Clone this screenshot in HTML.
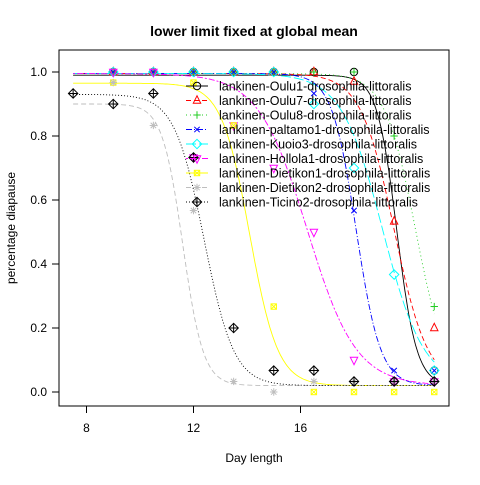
<!DOCTYPE html>
<html><head><meta charset="utf-8"><style>
body{margin:0;background:#fff}
svg{font-family:"Liberation Sans",sans-serif}
</style></head><body>
<svg id="chart" width="480" height="480" viewBox="0 0 480 480">
<text x="254" y="36" text-anchor="middle" font-size="14" font-weight="bold">lower limit fixed at global mean</text>
<text x="254" y="462" text-anchor="middle" font-size="12">Day length</text>
<text transform="translate(15,228) rotate(-90)" text-anchor="middle" font-size="12">percentage diapause</text>
<rect x="59" y="50" width="390" height="356" fill="none" stroke="#000"/>
<g id="axes"></g><g id="curves"></g><g id="points"></g><g id="legend"></g>
</svg>
<script>
const xTicks=[8,12,16];
const yTicks=[0,0.2,0.4,0.6,0.8,1.0];
const yTickLabels=["0.0","0.2","0.4","0.6","0.8","1.0"];
const days=[7.5,9,10.5,12,13.5,15,16.5,18,19.5,21];
const seriesNames=["lankinen-Oulu1-drosophila-littoralis","lankinen-Oulu7-drosophila-littoralis","lankinen-Oulu8-drosophila-littoralis","lankinen-paltamo1-drosophila-littoralis","lankinen-Kuoio3-drosophila-littoralis","lankinen-Hollola1-drosophila-littoralis","lankinen-Dietikon1-drosophila-littoralis","lankinen-Dietikon2-drosophila-littoralis","lankinen-Ticino2-drosophila-littoralis"];
const oulu1=[null,1,1,1,1,1,1,1,0.033,0.067];
const oulu7=[null,1,1,1,1,1,1,0.97,0.533,0.2];
const oulu8=[null,1,1,1,1,1,1,1,0.8,0.267];
const paltamo1=[null,1,1,1,1,1,0.933,0.567,0.067,0.067];
const kuoio3=[null,1,1,1,1,1,0.9,0.7,0.367,0.067];
const hollola1=[null,1,1,0.733,0.833,0.7,0.5,0.1,0.033,0.033];
const dietikon1=[null,0.967,null,0.967,0.833,0.267,0,0,0,0];
const dietikon2=[null,0.967,0.833,0.567,0.033,0,0.033,0.033,0.033,0.033];
const ticino2=[0.933,0.9,0.933,0.733,0.2,0.067,0.067,0.033,0.033,0.033];
const lowerLimit=0.02;
const upperLimits=[0.99,0.995,0.995,0.995,0.995,0.995,0.965,0.9,0.93];
const midpoints=[19.6,19.5,20.3,18.08,19.07,16.25,14.1,11.6,12.4];
const slopes=[2.7,1.6,1.73,2.2,1.3,1.1,1.9,2.6,1.8];
const allData=[oulu1,oulu7,oulu8,paltamo1,kuoio3,hollola1,dietikon1,dietikon2,ticino2];
const colors=["#000","#f00","#2c2","#00f","#0ff","#f0f","#ff0","#bebebe","#000"];
const dashes=["","5,3","1,3","6,2,1,2","10,3","2,2,6,2","","5,3","1,2"];
const sx=v=>86.5+(v-8)*26.75, sy=v=>392-v*320;
const NS="http://www.w3.org/2000/svg";
function mk(t,a,p){const e=document.createElementNS(NS,t);for(const k in a)e.setAttribute(k,a[k]);p.appendChild(e);return e;}
const ax=document.getElementById('axes');
xTicks.forEach(t=>{const l=mk('line',{x1:sx(t),x2:sx(t),y1:406,y2:413,stroke:'#000'},ax);

const tx=mk('text',{x:sx(t),y:432,'text-anchor':'middle','font-size':12},ax);tx.textContent=t;
});
yTicks.forEach((t,i)=>{const l=mk('line',{x1:52,x2:59,y1:sy(t),y2:sy(t),stroke:'#000'},ax);

const tx=mk('text',{x:47,y:sy(t)+4,'text-anchor':'end','font-size':12},ax);tx.textContent=yTickLabels[i];
});
function sym(i,x,y,g){const c=colors[i],s=3.7;let d='';
switch(i){case 0:mk('circle',{cx:x,cy:y,r:s,fill:'none',stroke:c},g);break;
case 1:mk('polygon',{points:`${x},${y-s-1} ${x-s},${y+s-1} ${x+s},${y+s-1}`,fill:'none',stroke:c},g);break;
case 2:d=`M${x-s},${y}H${x+s}M${x},${y-s}V${y+s}`;break;
case 3:d=`M${x-s+1},${y-s+1}L${x+s-1},${y+s-1}M${x-s+1},${y+s-1}L${x+s-1},${y-s+1}`;break;
case 4:mk('polygon',{points:`${x},${y-s-1} ${x+s+1},${y} ${x},${y+s+1} ${x-s-1},${y}`,fill:'none',stroke:c},g);break;
case 5:mk('polygon',{points:`${x},${y+s+1} ${x-s},${y-s+1} ${x+s},${y-s+1}`,fill:'none',stroke:c},g);break;
case 6:mk('rect',{x:x-s+1,y:y-s+1,width:2*s-2,height:2*s-2,fill:'none',stroke:c},g);d=`M${x-s+1},${y-s+1}L${x+s-1},${y+s-1}M${x-s+1},${y+s-1}L${x+s-1},${y-s+1}`;break;
case 7:d=`M${x-s},${y}H${x+s}M${x},${y-s}V${y+s}M${x-s+1},${y-s+1}L${x+s-1},${y+s-1}M${x-s+1},${y+s-1}L${x+s-1},${y-s+1}`;break;
case 8:mk('polygon',{points:`${x},${y-s-1} ${x+s+1},${y} ${x},${y+s+1} ${x-s-1},${y}`,fill:'none',stroke:c},g);d=`M${x-s-1},${y}H${x+s+1}M${x},${y-s-1}V${y+s+1}`;break;}
if(d)mk('path',{d:d,stroke:c,fill:'none'},g);}
const cg=document.getElementById('curves'),pg=document.getElementById('points'),lg=document.getElementById('legend');
allData.forEach((arr,i)=>{let p='';
for(let x=7.5;x<=21.001;x+=0.05){const v=lowerLimit+(upperLimits[i]-lowerLimit)/(1+Math.exp(slopes[i]*(x-midpoints[i])));p+=(p?'L':'M')+sx(x).toFixed(1)+','+sy(v).toFixed(1);}
const c=mk('path',{d:p,fill:'none',stroke:colors[i],'stroke-width':0.9,'stroke-dasharray':dashes[i]},cg);

const g=mk('g',{},pg);
arr.forEach((v,j)=>{if(v!==null)sym(i,sx(days[j]),sy(v),g);});
const ly=86+i*14.5;
const le=mk('g',{},lg);
mk('line',{x1:186,x2:208,y1:ly,y2:ly,stroke:colors[i],'stroke-dasharray':dashes[i]},le);
sym(i,197,ly,le);
const t=mk('text',{x:219,y:ly+4.5,'font-size':12.5},le);t.textContent=seriesNames[i];});
</script>
</body></html>
